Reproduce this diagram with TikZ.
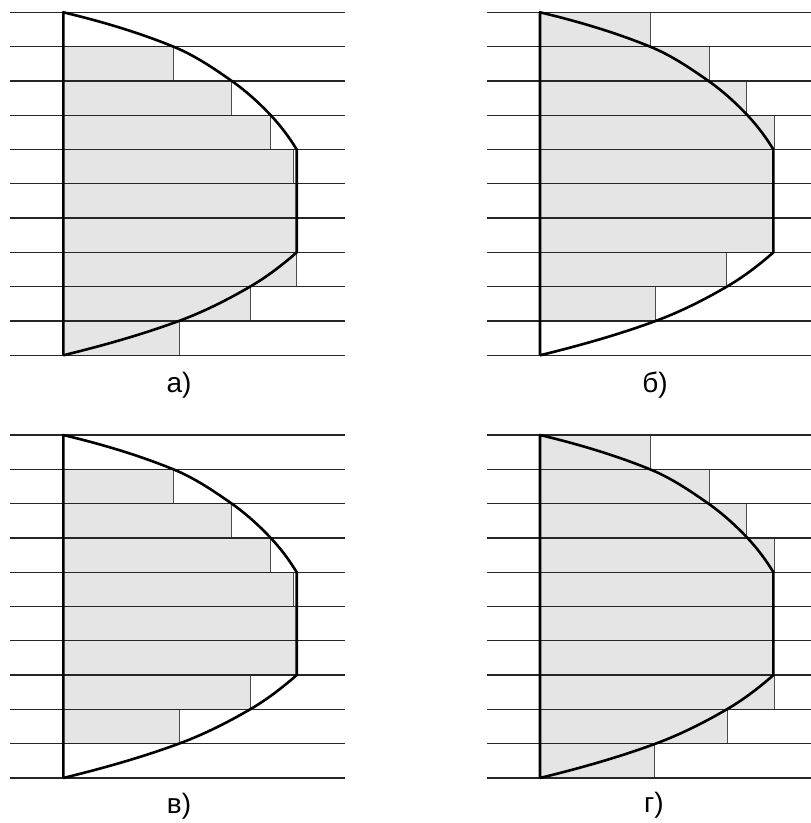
\documentclass[tikz,border=0pt]{standalone}
\usepackage{fontspec}
\setmainfont{Liberation Sans}
\begin{document}
\begin{tikzpicture}[x=1pt,y=-1pt]
\tikzset{
  hline/.style={line width=1.3pt, draw=black!85},
  bar/.style={fill=black!10, draw=black!70, line width=0.9pt},
  curve/.style={line width=2.6pt, line join=round, draw=black},
  lab/.style={font=\fontsize{28}{32}\selectfont, inner sep=0pt}
}
\useasboundingbox (0,0) rectangle (811,823);
\newcommand\mypanel[5]{%
  \begin{scope}[shift={(#1,#2)}]
    \foreach \w [count=\k from 0] in {#5} {
      \ifdim \w pt>0.1pt
        \path[bar] (0,\k*34.3) rectangle (\w,\k*34.3+34.3);
      \fi
    }
    \foreach \k in {0,...,10} {
      \draw[hline] (#3,\k*34.3) -- (#4,\k*34.3);
    }
    \draw[curve] (0,343) -- (0,0)
      .. controls (37.3,8.9) and (74.4,19.8) .. (110,34.3)
      .. controls (130.9,42.8) and (149.9,55.6) .. (168.4,68.6)
      .. controls (182.6,78.6) and (195.5,90.3) .. (207.4,102.9)
      .. controls (217.2,113.3) and (226.0,125.0) .. (233.4,137.2)
      -- (233.4,240.1)
      .. controls (218.9,252.8) and (203.4,264.7) .. (186.7,274.4)
      .. controls (164.0,287.6) and (140.2,299.6) .. (115.5,308.7)
      .. controls (77.8,322.6) and (39.0,333.4) .. (0,343);
  \end{scope}
}
\mypanel{63.3}{12.3}{-53}{282}{0,110,168.4,207.4,230,233.4,233.4,233.4,186.7,116}
\mypanel{540}{12.3}{-53}{272}{110.7,169.3,206.7,234,233.4,233.4,233.4,186.7,115.3,0}
\mypanel{63.3}{435}{-53}{282}{0,110,168.4,207.4,230,233.4,233.4,186.7,115.7,0}
\mypanel{540}{435}{-53}{272}{110.7,169.3,206.7,234,233.4,233.4,233.4,234,187.3,114}
\node[lab] (la) at (179,385) {а)};
\node[lab] (lb) at (655,385) {б)};
\node[lab] (lc) at (179,806) {в)};
\node[lab] (ld) at (654,805) {г)};
\end{tikzpicture}
\end{document}
